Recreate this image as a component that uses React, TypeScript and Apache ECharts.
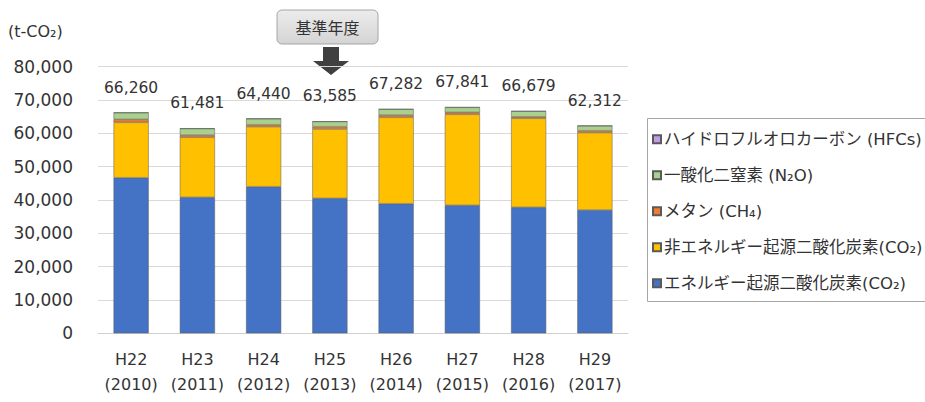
import React, { useEffect, useRef } from "react";
import * as echarts from "echarts";

const categories = ["H22\n(2010)", "H23\n(2011)", "H24\n(2012)", "H25\n(2013)", "H26\n(2014)", "H27\n(2015)", "H28\n(2016)", "H29\n(2017)"];
const energyCO2 = [46700, 40800, 44000, 40500, 38900, 38400, 37800, 37000];
const nonEnergyCO2 = [16600, 18000, 18000, 20800, 25900, 27300, 26700, 23200];
const methane = [900, 700, 600, 700, 700, 600, 500, 600];
const n2o = [2000, 1931, 1790, 1535, 1732, 1491, 1629, 1462];
const hfcs = [60, 50, 50, 50, 50, 50, 50, 50];
const totals = [66260, 61481, 64440, 63585, 67282, 67841, 66679, 62312];
const yTicks = { min: 0, max: 80000, interval: 10000 };

const seriesNames = {
  energy: "エネルギー起源二酸化炭素(CO₂)",
  nonEnergy: "非エネルギー起源二酸化炭素(CO₂)",
  ch4: "メタン (CH₄)",
  n2o: "一酸化二窒素 (N₂O)",
  hfc: "ハイドロフルオロカーボン (HFCs)",
};

const FONT = "'DejaVu Sans', 'Noto Sans CJK JP', sans-serif";
const fmt = (v: number) => v.toLocaleString("en-US");

export default function App() {
  const ref = useRef<HTMLDivElement>(null);
  useEffect(() => {
    if (!ref.current) return;
    const chart = echarts.init(ref.current, null, { renderer: "svg" });
    const border = { borderColor: "#5a5a5a", borderWidth: 0.5 };
    const barBase = { type: "bar", stack: "total", barWidth: "53%" };
    chart.setOption({
      animation: false,
      backgroundColor: "#ffffff",
      textStyle: { fontFamily: FONT },
      grid: { left: 98, right: 297, top: 66.7, bottom: 68.7, containLabel: false },
      legend: {
        orient: "vertical",
        left: 652,
        top: 131,
        itemWidth: 8,
        itemHeight: 8,
        itemGap: 19.5,
        icon: "rect",
        padding: 0,
        textStyle: { fontSize: 16.5, color: "#333333", fontFamily: FONT, padding: [0, 0, 0, -2] },
        data: [seriesNames.hfc, seriesNames.n2o, seriesNames.ch4, seriesNames.nonEnergy, seriesNames.energy],
      },
      xAxis: {
        type: "category",
        data: categories,
        axisLine: { lineStyle: { color: "#d0d0d0", width: 1 } },
        axisTick: { show: false },
        axisLabel: { interval: 0, color: "#333333", fontSize: 16, lineHeight: 25, margin: 14, fontFamily: FONT },
      },
      yAxis: {
        type: "value",
        min: yTicks.min,
        max: yTicks.max,
        interval: yTicks.interval,
        axisLine: { show: false },
        axisTick: { show: false },
        splitLine: { lineStyle: { color: "#d9d9d9", width: 1 } },
        axisLabel: { color: "#333333", fontSize: 17, margin: 25, formatter: (v: number) => fmt(v), fontFamily: FONT },
      },
      graphic: [
        {
          type: "text",
          left: 8,
          top: 23,
          style: { text: "(t-CO₂)", fontSize: 16, fill: "#333333", fontFamily: FONT },
        },
        {
          type: "rect",
          shape: { x: 277, y: 10, width: 101, height: 34, r: 5 },
          style: {
            fill: new echarts.graphic.LinearGradient(0, 0, 0, 1, [
              { offset: 0, color: "#ececec" },
              { offset: 1, color: "#d4d4d4" },
            ]),
            stroke: "#a6a6a6",
            lineWidth: 1,
          },
        },
        {
          type: "text",
          x: 327.5,
          y: 27,
          style: { text: "基準年度", fontSize: 16, fill: "#333333", fontFamily: "'Noto Sans CJK JP', sans-serif", align: "center", verticalAlign: "middle" },
        },
        {
          type: "polygon",
          shape: { points: [[323, 47], [339, 47], [339, 61], [349, 61], [331, 75], [313, 61], [323, 61]] },
          style: { fill: "#404040" },
        },
        {
          type: "rect",
          shape: { x: 647.5, y: 118.5, width: 300, height: 183 },
          style: { fill: "none", stroke: "#a6a6a6", lineWidth: 1 },
        },
      ],
      series: [
        { ...barBase, name: seriesNames.energy, data: energyCO2, itemStyle: { color: "#4472C4", ...border } },
        { ...barBase, name: seriesNames.nonEnergy, data: nonEnergyCO2, itemStyle: { color: "#FFC000", ...border } },
        { ...barBase, name: seriesNames.ch4, data: methane, itemStyle: { color: "#ED7D31", ...border } },
        { ...barBase, name: seriesNames.n2o, data: n2o, itemStyle: { color: "#A9D18E", ...border } },
        {
          ...barBase,
          name: seriesNames.hfc,
          data: hfcs,
          itemStyle: { color: "#C39BE8", ...border },
          label: {
            show: true,
            position: "top",
            distance: 17,
            fontSize: 15.5,
            color: "#333333",
            fontFamily: FONT,
            formatter: (p: any) => fmt(totals[p.dataIndex]),
          },
        },
      ],
    });
    return () => chart.dispose();
  }, []);
  return <div ref={ref} style={{ position: "fixed", left: 0, top: 0, width: 925, height: 402 }} />;
}
